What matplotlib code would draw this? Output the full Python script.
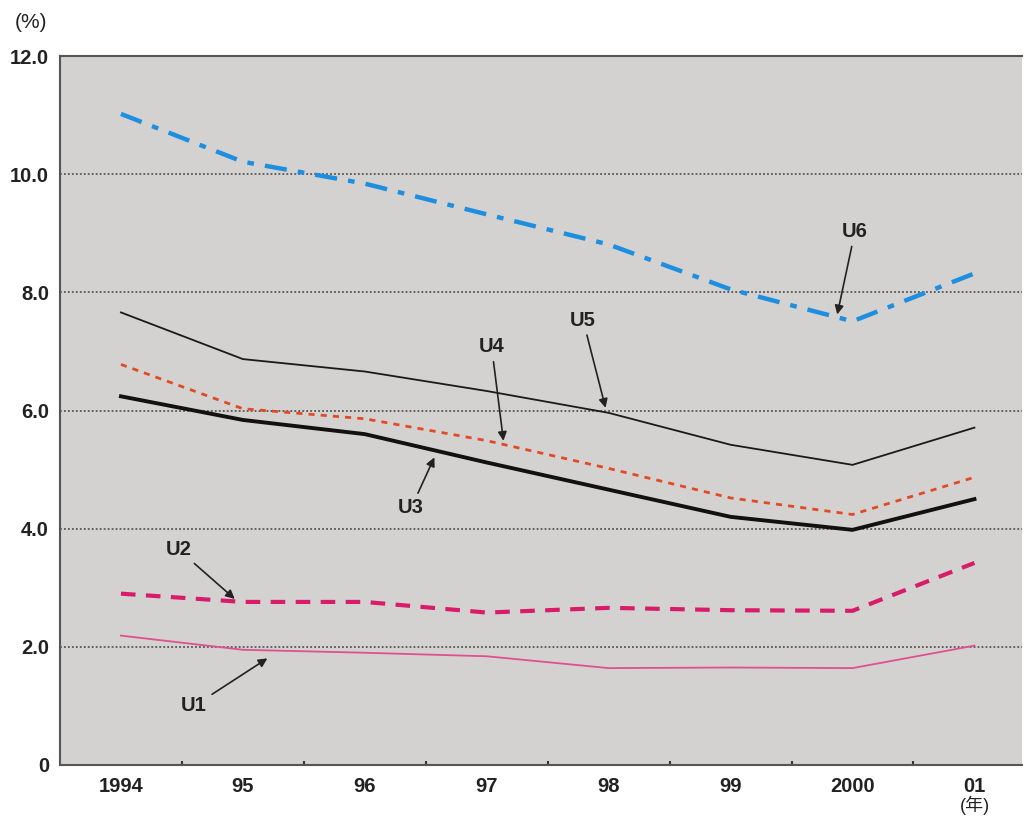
import matplotlib
matplotlib.use("Agg")
import matplotlib.pyplot as plt

years = [1994, 1995, 1996, 1997, 1998, 1999, 2000, 2001]
year_labels = ["1994", "95", "96", "97", "98", "99", "2000", "01"]
y_ticks = [0, 2, 4, 6, 8, 10, 12]
y_labels = ["0", "2.0", "4.0", "6.0", "8.0", "10.0", "12.0"]

u1 = [2.19, 1.95, 1.90, 1.84, 1.64, 1.65, 1.64, 2.02]
u2 = [2.90, 2.76, 2.76, 2.58, 2.66, 2.62, 2.61, 3.42]
u3 = [6.24, 5.84, 5.60, 5.12, 4.66, 4.20, 3.98, 4.50]
u4 = [6.78, 6.03, 5.86, 5.49, 5.02, 4.52, 4.24, 4.87]
u5 = [7.66, 6.87, 6.66, 6.33, 5.96, 5.42, 5.08, 5.71]
u6 = [11.02, 10.21, 9.84, 9.32, 8.81, 8.05, 7.51, 8.32]

plt.rcParams['font.family'] = ['Liberation Sans', 'Noto Sans CJK JP', 'DejaVu Sans']

fig = plt.figure(figsize=(10.24, 8.18), dpi=100)
ax = fig.add_axes([60/1024, 1-765/818, 962/1024, (765-56)/818])
ax.set_facecolor('#d4d2d1')

ax.set_xlim(1993.5, 2001.39)
ax.set_ylim(0, 12)

for y in [2, 4, 6, 8, 10]:
    ax.axhline(y, color='#555555', lw=1.3, ls=(0, (1, 1.2)), zorder=1)

ax.plot(years, u6, color='#1e8fe0', lw=3.2, ls=(0, (5, 2.5, 1.5, 2.5)), zorder=3)
ax.plot(years, u5, color='#1a1a1a', lw=1.3, zorder=3)
ax.plot(years, u4, color='#e24a25', lw=2.0, ls=(0, (2.2, 2.2)), zorder=3)
ax.plot(years, u3, color='#111111', lw=2.8, zorder=3)
ax.plot(years, u2, color='#d81c6a', lw=3.0, ls=(0, (3.5, 2.5)), zorder=3)
ax.plot(years, u1, color='#e0508f', lw=1.3, zorder=3)

ax.set_xticks(years)
ax.set_xticklabels(year_labels)
ax.set_xticks([y + 0.5 for y in years[:-1]], minor=True)
ax.tick_params(axis='x', which='major', length=0, pad=9, labelsize=14.5)
ax.tick_params(axis='x', which='minor', length=3, direction='in', width=1.5, color='#333333')
ax.set_yticks(y_ticks)
ax.set_yticklabels(y_labels)
ax.tick_params(axis='y', length=0, pad=8, labelsize=14.5)
for lab in ax.get_xticklabels() + ax.get_yticklabels():
    lab.set_fontweight('bold')
    lab.set_color('#222222')

for s in ax.spines.values():
    s.set_color('#555555')
    s.set_linewidth(1.5)
ax.spines['right'].set_visible(False)

arrow = dict(arrowstyle='-|>', color='#222222', lw=1.2, mutation_scale=13)
tk = dict(fontsize=14.5, fontweight='bold', color='#222222', ha='center', va='center')
ax.annotate('U6', xy=(2000 - 0.13, 7.58), xytext=(2000.02, 9.03), arrowprops=arrow, **tk)
ax.annotate('U5', xy=(1997.98, 6.0), xytext=(1997.79, 7.53), arrowprops=arrow, **tk)
ax.annotate('U4', xy=(1997.14, 5.44), xytext=(1997.04, 7.08), arrowprops=arrow, **tk)
ax.annotate('U3', xy=(1996.58, 5.25), xytext=(1996.38, 4.35), arrowprops=arrow, **tk)
ax.annotate('U2', xy=(1994.95, 2.78), xytext=(1994.47, 3.65), arrowprops=arrow, **tk)
ax.annotate('U1', xy=(1995.22, 1.83), xytext=(1994.6, 1.0), arrowprops=arrow, **tk)

fig.text(31/1024, 1-22/818, '(%)', fontsize=15, color='#222222', ha='center', va='center')
fig.text(975/1024, 1-805/818, '(年)', fontsize=13, color='#222222', ha='center', va='center')

fig.savefig('out.png', dpi=100, facecolor='white')
